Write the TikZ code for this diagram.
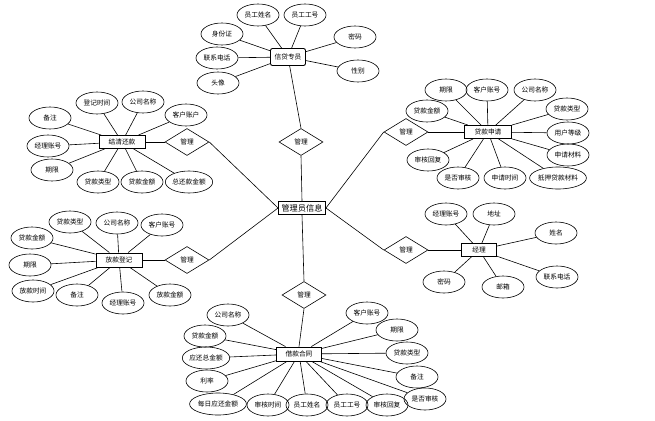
\documentclass[tikz,border=0pt]{standalone}
\usepackage{fontspec}
\newfontfamily\cjk{Noto Sans CJK SC}
\usetikzlibrary{shapes.geometric}
\tikzset{
  lbl/.style={font=\cjk\fontsize{6.7}{7.5}\selectfont},
  attr/.style={lbl,ellipse,draw,line width=0.6pt,minimum width=42pt,minimum height=22pt,inner xsep=0pt,inner ysep=0pt},
  ent/.style={lbl,rectangle,draw,line width=0.9pt,minimum height=13pt,inner sep=1pt},
  rel/.style={lbl,diamond,draw,line width=0.6pt,minimum width=44pt,minimum height=27pt,inner sep=0pt,aspect=1.63},
  conn/.style={line width=0.6pt}
}
\begin{document}
\begin{tikzpicture}[x=1pt,y=-1pt]
\useasboundingbox (0,0) rectangle (655,420);
% center
\node[ent,minimum width=47pt,font=\cjk\fontsize{8.2}{9}\selectfont] (admin) at (302,208) {管理员信息};
% relations
\node[rel] (r1) at (301,142) {管理};
\node[rel] (r2) at (187,142) {管理};
\node[rel] (r3) at (187,260) {管理};
\node[rel] (r4) at (406,132) {管理};
\node[rel] (r5) at (406,250) {管理};
\node[rel] (r6) at (304,295) {管理};
% entities
\node[ent,rounded corners=2pt,minimum width=35pt,minimum height=17pt] (e1) at (288,57) {信贷专员};
\node[ent,minimum width=46pt] (e2) at (122,142) {结清还款};
\node[ent,minimum width=47pt] (e3) at (488,132) {贷款申请};
\node[ent,minimum width=46pt,minimum height=14pt] (e4) at (119,260) {放款登记};
\node[ent,minimum width=35pt] (e5) at (479,250) {经理};
\node[ent,minimum width=45pt,minimum height=14pt] (e6) at (299,354) {借款合同};
% main connectors
\draw[conn] (e1) -- (r1.north);
\draw[conn] (r1.south) -- (admin.north);
\draw[conn] (r2.east) -- (admin.west);
\draw[conn] (r3.east) -- (admin.west);
\draw[conn] (r4.west) -- (admin.east);
\draw[conn] (r5.west) -- (admin.east);
\draw[conn] (admin.south) -- (r6.north);
\draw[conn] (e2.east) -- (r2.west);
\draw[conn] (e4.east) -- (r3.west);
\draw[conn] (r4.east) -- (e3.west);
\draw[conn] (r5.east) -- (e5.west);
\draw[conn] (r6.south) -- (e6.north);
% attributes of e1
\foreach \n/\x/\y/\t in {a1/258/15/员工姓名, a2/305/15/员工工号, a3/222/34/身份证, a4/217/58/联系电话, a5/218/83/头像, a6/355/37/密码, a7/358/71/性别}{
  \node[attr] (e1\n) at (\x,\y) {\t};
  \draw[conn] (e1\n) -- (e1);
}
% attributes of e2
\foreach \n/\x/\y/\t in {a1/97/103/登记时间, a2/143/102/公司名称, a3/186/115/客户账户, a4/50/118/备注, a5/48/146/经理账号, a6/52/170/期限, a7/98/182/贷款类型, a8/142/182/贷款金额, a9/189/182/总还款金额}{
  \node[attr] (e2\n) at (\x,\y) {\t};
  \draw[conn] (e2\n) -- (e2);
}
% attributes of e3
\foreach \n/\x/\y/\t in {a1/446/90/期限, a2/487/90/客户账号, a3/535/90/公司名称, a4/427/111/贷款金额, a5/567/109/贷款类型, a6/568/133/用户等级, a7/568/155/申请材料, a8/428/160/审核回复, a9/458/178/是否审核, a10/505/178/申请时间, a11/558/178/抵押贷款材料}{
  \node[attr] (e3\n) at (\x,\y) {\t};
  \draw[conn] (e3\n) -- (e3);
}
% attributes of e4
\foreach \n/\x/\y/\t in {a1/70/222/贷款类型, a2/117/223/公司名称, a3/162/225/客户账号, a4/32/238/贷款金额, a5/30/265/期限, a6/33/291/放款时间, a7/77/295/备注, a8/123/303/经理账号, a9/170/295/放款金额}{
  \node[attr] (e4\n) at (\x,\y) {\t};
  \draw[conn] (e4\n) -- (e4);
}
% attributes of e5
\foreach \n/\x/\y/\t in {a1/446/214/经理账号, a2/494/214/地址, a3/556/233/姓名, a4/557/277/联系电话, a5/444/282/密码, a6/503/287/邮箱}{
  \node[attr] (e5\n) at (\x,\y) {\t};
  \draw[conn] (e5\n) -- (e5);
}
% attributes of e6
\foreach \n/\x/\y/\t in {a1/228/315/公司名称, a2/205/336/贷款金额, a3/206/358/应还总金额, a4/207/381/利率, a5/218/404/每日应还金额, a6/268/405/审核时间, a7/307/405/员工姓名, a8/347/405/员工工号, a9/387/405/审核回复, a10/367/313/客户账号, a11/397/330/期限, a12/407/353/贷款类型, a13/417/377/备注, a14/425/399/是否审核}{
  \node[attr] (e6\n) at (\x,\y) {\t};
  \draw[conn] (e6\n) -- (e6);
}
\end{tikzpicture}
\end{document}
